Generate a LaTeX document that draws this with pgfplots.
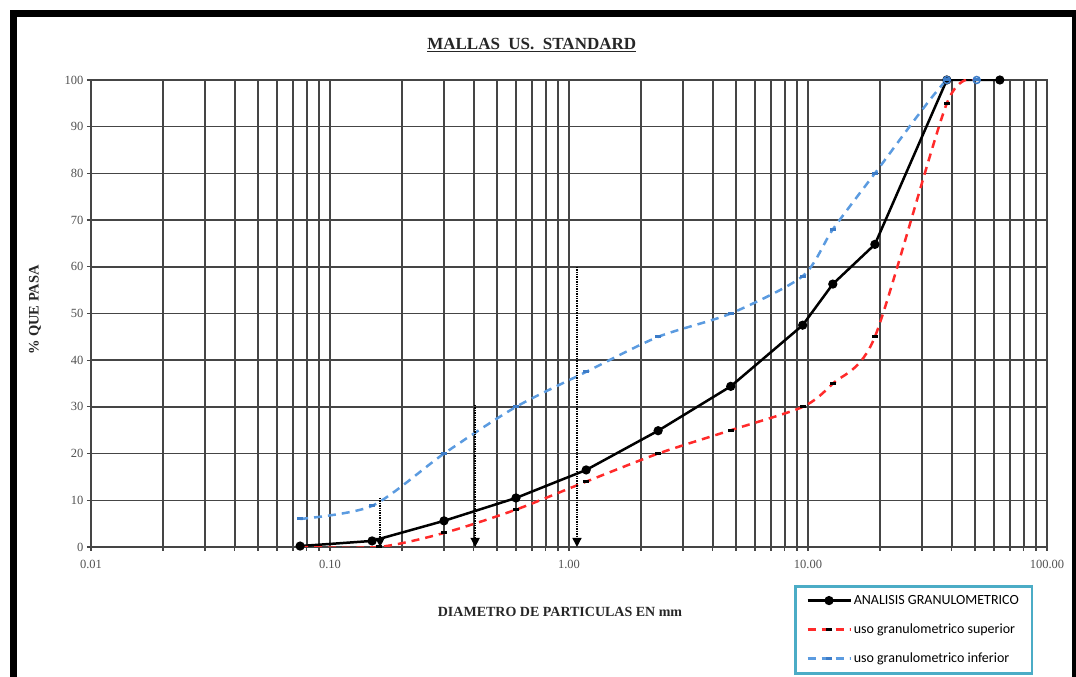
\documentclass[border=0pt]{standalone}
\usepackage{pgfplots}
\pgfplotsset{compat=1.18}
\usepackage{fontspec}
\setmainfont{Liberation Serif}
\newfontfamily\legfont{Carlito}
\usetikzlibrary{arrows.meta}
\definecolor{rojo}{HTML}{FF2A2A}
\definecolor{azul}{HTML}{5B9BE0}
\definecolor{azulmk}{HTML}{3C7CC8}
\definecolor{legb}{HTML}{4BACC6}
\definecolor{gridc}{HTML}{454545}
\definecolor{tickc}{HTML}{505050}
\begin{document}
\begin{tikzpicture}[x=1pt,y=1pt]
\path[use as bounding box] (0,0) rectangle (1076,677);
\draw[line width=7pt] (13.5,-20) -- (13.5,663.5) -- (1075.5,663.5) -- (1075.5,-20);
\begin{axis}[
  at={(91pt,130pt)}, anchor=south west,
  scale only axis, width=956pt, height=467pt,
  xmode=log, xmin=0.01, xmax=100, ymin=0, ymax=100,
  xtick={0.01,0.1,1,10,100},
  xticklabels={0.01,0.10,1.00,10.00,100.00},
  ytick={0,10,...,100},
  /pgf/number format/assume math mode=true,
  grid=both,
  major grid style={gridc, line width=1.5pt},
  minor grid style={gridc, line width=1.5pt},
  axis line style={gridc, line width=1.7pt},
  tick align=outside, tick pos=left,
  major tick length=4pt, minor tick length=4pt,
  tick style={gridc, line width=1.2pt},
  tick label style={font=\fontsize{12.5}{12.5}\selectfont, text=tickc},
  xticklabel style={yshift=-6pt},
  xlabel={\textbf{DIAMETRO DE PARTICULAS EN mm}},
  xlabel style={at={(axis description cs:0.4906,-0.139)}, anchor=center, font=\fontsize{14}{14}\selectfont, text=black!85},
  ylabel={\textbf{\% QUE PASA}},
  ylabel style={at={(axis description cs:-0.0586,0.5075)}, anchor=center, rotate=0, font=\fontsize{14.5}{14.5}\selectfont, text=black!85},
  title={\textbf{\underline{MALLAS\ \ US.\ \ STANDARD}}},
  title style={at={(axis description cs:0.461,1.062)}, anchor=center, font=\fontsize{17}{17}\selectfont, text=black!85},
  legend style={at={(axis description cs:0.7354,-0.0814)}, anchor=north west,
    draw=legb, line width=2.5pt, font=\legfont\fontsize{14}{14}\selectfont,
    inner xsep=11pt, inner ysep=7pt, row sep=14pt,
    /tikz/every even column/.append style={column sep=5pt}},
  legend cell align=left,
  legend image code/.code={\draw[mark repeat=2,mark phase=2,#1] plot coordinates {(0pt,0pt) (21.5pt,0pt) (43pt,0pt)};},
]
\addplot[black, line width=2.5pt, mark=*, mark size=3.3pt] coordinates {
 (0.075,0.2) (0.15,1.3) (0.30,5.6) (0.60,10.5) (1.18,16.5) (2.36,24.9) (4.75,34.4) (9.5,47.5) (12.7,56.3) (19.05,64.8) (38.1,100) (63.5,100)
};
\addlegendentry{ANALISIS GRANULOMETRICO}
\addplot[rojo, line width=2.5pt, dash pattern=on 8pt off 6pt, smooth, tension=0.45, mark=-, mark size=3pt, mark options={black, solid, line width=3pt}] coordinates {
 (0.075,0) (0.16,0) (0.30,3) (0.60,8) (1.18,14) (2.36,20) (4.75,25) (9.5,30) (12.7,35) (19.05,45) (38.1,95) (50.8,100)
};
\addlegendentry{uso granulometrico superior}
\addplot[azul, line width=2.5pt, dash pattern=on 8pt off 6pt, smooth, tension=0.45, mark=-, mark size=3pt, mark options={azulmk, solid, line width=3pt}] coordinates {
 (0.075,6) (0.15,8.8) (0.30,20) (0.60,30) (1.18,37.5) (2.36,45) (4.75,50) (9.5,58) (12.7,68) (19.05,80) (38.1,100) (50.8,100)
};
\addlegendentry{uso granulometrico inferior}
\addplot[only marks, mark=o, mark size=3.5pt, azulmk, line width=1.5pt, forget plot] coordinates {(38.1,100) (50.8,100)};
\addplot[black, densely dotted, line width=1.4pt, -{Triangle[width=9pt,length=9pt]}, forget plot] coordinates {(0.162,10.5) (0.162,0)};
\addplot[black, densely dotted, line width=1.4pt, -{Triangle[width=9pt,length=9pt]}, forget plot] coordinates {(0.405,30.4) (0.405,0)};
\addplot[black, densely dotted, line width=1.4pt, -{Triangle[width=9pt,length=9pt]}, forget plot] coordinates {(1.08,60) (1.08,0)};
\end{axis}
\end{tikzpicture}
\end{document}
